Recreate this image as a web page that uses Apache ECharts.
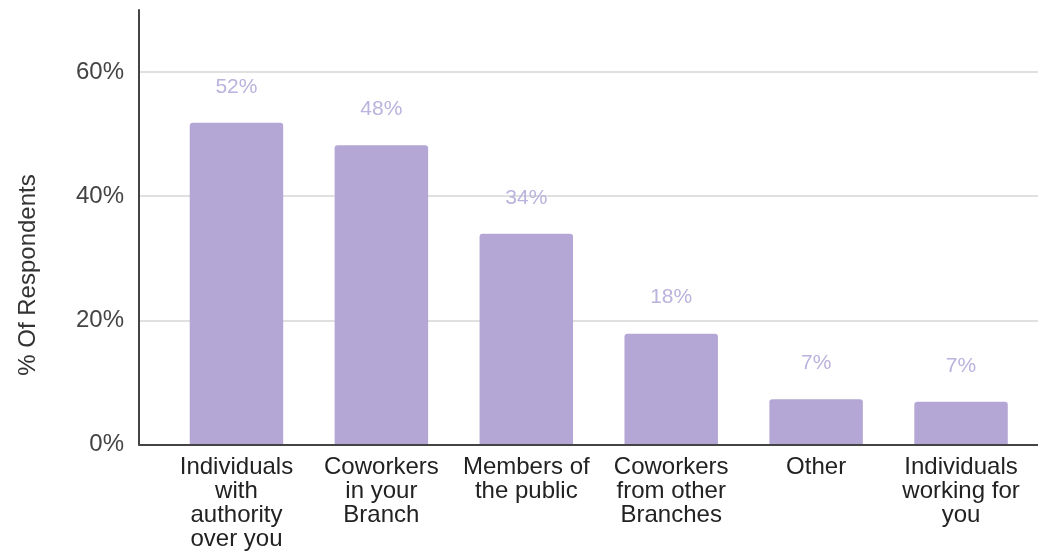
<!DOCTYPE html>
<html>
<head>
<meta charset="utf-8">
<script src="https://cdn.jsdelivr.net/npm/echarts@6/dist/echarts.min.js"></script>
<style>
  html, body { margin: 0; padding: 0; background: #fff; }
  #chart { width: 1038px; height: 551px; }
</style>
</head>
<body>
<div id="chart"></div>
<script>
// Who respondents reported the behaviour came from
const categories = [
  'Individuals\nwith\nauthority\nover you',
  'Coworkers\nin your\nBranch',
  'Members of\nthe public',
  'Coworkers\nfrom other\nBranches',
  'Other',
  'Individuals\nworking for\nyou'
];
// Share of respondents, in percent
const shares = [51.8, 48.2, 33.9, 17.8, 7.2, 6.8];
const yTicks = { min: 0, max: 70, interval: 20 };
const yTitle = '% Of Respondents';

const FONT = '"Liberation Sans", Arial, sans-serif';
const BAR = '#b4a7d6';

const chart = echarts.init(document.getElementById('chart'), null, { renderer: 'canvas' });

chart.setOption({
  animation: false,
  backgroundColor: '#ffffff',
  grid: [
    // frame: y axis, gridlines and baseline across the full width
    { left: 139, right: 0, top: 10, bottom: 106.5 },
    // bar area: categories sit slightly inset from the y axis
    { left: 164, right: 4.5, top: 10, bottom: 106.5 }
  ],
  xAxis: [
    {
      gridIndex: 0, type: 'value', min: 0, max: 1, z: 3,
      axisLine: { show: true, lineStyle: { color: '#444', width: 2 } },
      axisTick: { show: false }, axisLabel: { show: false }, splitLine: { show: false }
    },
    {
      gridIndex: 1, type: 'category', data: categories,
      axisLine: { show: false }, axisTick: { show: false },
      axisLabel: {
        interval: 0, margin: 11, color: '#222',
        fontFamily: FONT, fontSize: 24, lineHeight: 24, align: 'center'
      }
    }
  ],
  yAxis: [
    {
      gridIndex: 0, type: 'value',
      min: yTicks.min, max: yTicks.max, interval: yTicks.interval,
      axisLine: { show: true, lineStyle: { color: '#444', width: 2 } },
      axisTick: { show: false },
      axisLabel: {
        formatter: '{value}%', color: '#444', margin: 15,
        fontFamily: FONT, fontSize: 24, showMaxLabel: false
      },
      splitLine: { show: true, showMaxLine: false, lineStyle: { color: '#d6d6d6', width: 1.5 } }
    },
    {
      gridIndex: 1, type: 'value',
      min: yTicks.min, max: yTicks.max, interval: yTicks.interval,
      show: false, splitLine: { show: false }
    }
  ],
  series: [{
    type: 'bar',
    xAxisIndex: 1, yAxisIndex: 1,
    data: shares,
    barWidth: '64.5%',
    itemStyle: { color: BAR, borderRadius: [3, 3, 0, 0] },
    label: {
      show: true, position: 'top', distance: 25,
      formatter: p => Math.round(p.value) + '%',
      color: '#bbb2dd', fontFamily: FONT, fontSize: 21, lineHeight: 22
    }
  }],
  graphic: [{
    type: 'text',
    x: 28, y: 275,
    rotation: Math.PI / 2,
    style: {
      text: yTitle,
      font: '24px ' + FONT,
      fill: '#333',
      textAlign: 'center',
      textVerticalAlign: 'middle'
    }
  }]
});
</script>
</body>
</html>
